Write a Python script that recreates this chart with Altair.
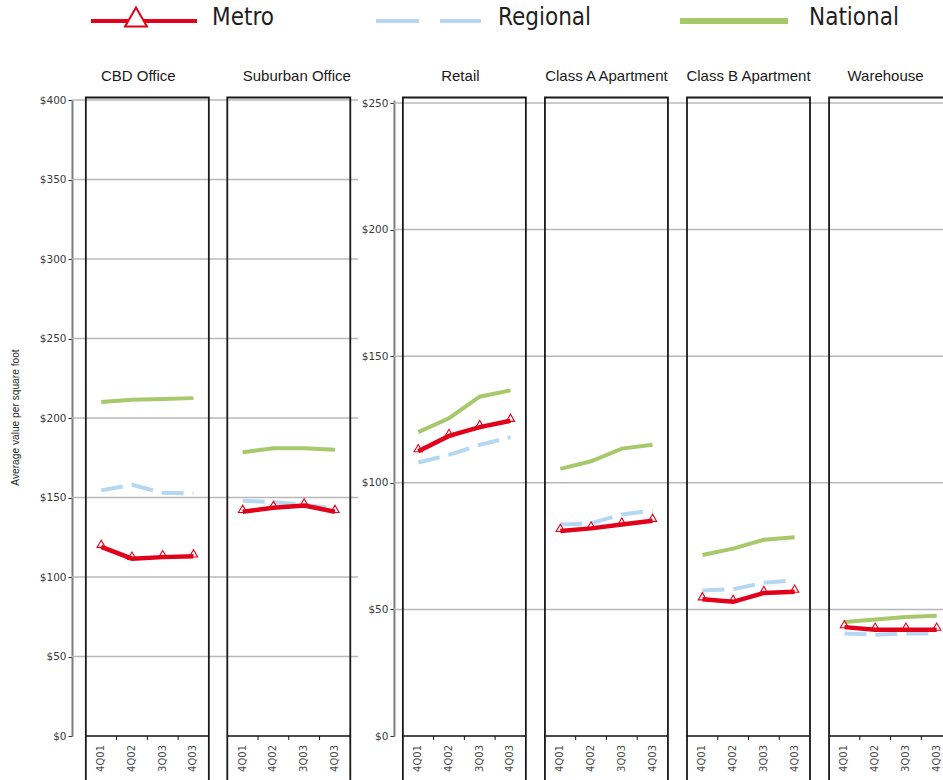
import altair as alt
import pandas as pd

# ---------------------------------------------------------------- data
quarters = ["4Q01", "4Q02", "3Q03", "4Q03"]
panels = ["CBD Office", "Suburban Office", "Retail",
          "Class A Apartment", "Class B Apartment", "Warehouse"]
series = ["Metro", "Regional", "National"]

metro = [
    [119.0, 111.5, 112.5, 113.0],
    [141.0, 143.5, 145.0, 141.0],
    [112.5, 118.5, 122.0, 124.5],
    [81.0, 82.0, 83.5, 85.0],
    [54.0, 53.0, 56.5, 57.0],
    [43.0, 42.0, 42.0, 42.0],
]
regional = [
    [154.5, 158.0, 153.0, 152.5],
    [148.0, 147.0, 145.5, 143.0],
    [108.0, 111.0, 115.0, 118.0],
    [83.5, 84.0, 87.5, 89.0],
    [57.5, 58.0, 60.5, 61.5],
    [40.5, 40.0, 40.5, 40.5],
]
national = [
    [210.0, 211.5, 212.0, 212.5],
    [178.5, 181.0, 181.0, 180.0],
    [120.0, 125.5, 134.0, 136.5],
    [105.5, 108.5, 113.5, 115.0],
    [71.5, 74.0, 77.5, 78.5],
    [45.0, 46.0, 47.0, 47.5],
]

# two value scales: offices on the left, the rest on the right
panel_group = [0, 0, 1, 1, 1, 1]
group_ticks = [list(range(0, 401, 50)), list(range(0, 251, 50))]
y_title = "Average value per square foot"

# ---------------------------------------------------------------- layout
W, H = 871, 636
PAD = {"left": 72, "top": 100, "right": 0, "bottom": 44}
BAND = 30.75                       # pixels per quarter slot
X_MAX = W / BAND
group_axis = [0.0, 10.47]          # axis position of each group (slots)
group_lead = [0.45, 0.29]
group_gap = [0.6, 0.62]
group_grid_end = [9.3, X_MAX]
group_top = [400.0, 250.0 * H / (H - 3)]
title_dx = [-9, 8, -4, 0, 0, -5]

RED, BLUE, GREEN = "#e2001a", "#b6d7f1", "#a7c96c"
series_color = {"Metro": RED, "Regional": BLUE, "National": GREEN}

starts = [0.0] * len(panels)
for g in (0, 1):
    members = [i for i, grp in enumerate(panel_group) if grp == g]
    for k, i in enumerate(members):
        starts[i] = group_axis[g] + group_lead[g] + k * (4 + group_gap[g])

rows = []
for name, table in zip(series, [metro, regional, national]):
    for p, vals in enumerate(table):
        for q, v in enumerate(vals):
            rows.append({"panel": panels[p], "group": panel_group[p],
                         "series": name, "quarter": quarters[q],
                         "x": starts[p] + q + 0.5, "value": v})
values_df = pd.DataFrame(rows)

frames_df = pd.DataFrame({
    "panel": panels,
    "x0": starts,
    "x1": [s + 4 for s in starts],
    "xc": [s + 2 + d / BAND for s, d in zip(starts, title_dx)],
})
ticks_df = pd.DataFrame([{"x": s + k} for s in starts for k in (1, 2, 3)])
labels_df = pd.DataFrame([{"x": s + q + 0.5, "label": lab}
                          for s in starts for q, lab in enumerate(quarters)])

xs = alt.Scale(domain=[0, X_MAX], nice=False, zero=False)


def X(field):
    return alt.X(field, type="quantitative", scale=xs, axis=None)


def y_scale(g):
    return alt.Scale(domain=[0, group_top[g]], nice=False, zero=True)


layers = []

# gridlines and the value axes
for g in (0, 1):
    grid_df = pd.DataFrame({"value": group_ticks[g][1:],
                            "gx0": group_axis[g],
                            "gx1": group_grid_end[g]})
    axis_kw = dict(orient="left", values=group_ticks[g],
                   labelExpr="'$' + datum.value", grid=False,
                   domainColor="#7d7d7d", domainWidth=2,
                   tickColor="#333333", tickSize=4, tickWidth=1,
                   labelFont="DejaVu Sans", labelFontSize=10.5,
                   labelColor="#3a3a3a", labelPadding=2,
                   offset=-group_axis[g] * BAND)
    if g == 0:
        axis_kw.update(titleFont="Liberation Sans", titleFontSize=10.2,
                       titleFontWeight="normal", titleColor="#1f1f1f",
                       titleX=-57, titleY=H / 2 - 1, titleAngle=270,
                       titleAlign="center", titleBaseline="middle")
        ytitle = y_title
    else:
        ytitle = None
    layers.append(
        alt.Chart(grid_df).mark_rule(color="#b8b8b8", strokeWidth=1.5).encode(
            x=X("gx0"), x2="gx1",
            y=alt.Y("value:Q", scale=y_scale(g), axis=alt.Axis(**axis_kw),
                    title=ytitle),
        )
    )

# panel frames, baselines, quarter ticks and labels, panel titles
layers.append(
    alt.Chart(frames_df).mark_rect(fillOpacity=0, stroke="#1a1a1a",
                                   strokeWidth=1.8).encode(
        x=X("x0"), x2="x1", y=alt.value(-2.5), y2=alt.value(H + 80))
)
layers.append(
    alt.Chart(frames_df).mark_rule(color="#111111", strokeWidth=1.5).encode(
        x=X("x0"), x2="x1", y=alt.value(H))
)
layers.append(
    alt.Chart(ticks_df).mark_rule(color="#111111", strokeWidth=1).encode(
        x=X("x"), y=alt.value(H), y2=alt.value(H + 4))
)
layers.append(
    alt.Chart(labels_df).mark_text(angle=270, align="right", baseline="middle",
                                   font="DejaVu Sans", fontSize=10,
                                   color="#4a4a4a").encode(
        x=X("x"), y=alt.value(H + 9), text="label:N")
)
layers.append(
    alt.Chart(frames_df).mark_text(font="Liberation Sans", fontSize=15,
                                   color="#1a1a1a", baseline="alphabetic").encode(
        x=X("xc"), y=alt.value(-19), text="panel:N")
)

# the three series, national first so metro sits on top
for name in ["National", "Regional", "Metro"]:
    for g in (0, 1):
        sub = values_df[(values_df.series == name) & (values_df.group == g)]
        mark_kw = dict(color=series_color[name], strokeCap="butt",
                       strokeWidth=4.5 if name == "Metro" else 4)
        if name == "Regional":
            mark_kw["strokeDash"] = [22, 9]
        layers.append(
            alt.Chart(sub).mark_line(**mark_kw).encode(
                x=X("x"),
                y=alt.Y("value:Q", scale=y_scale(g), axis=None),
                detail="panel:N", order="x:Q")
        )
        if name == "Metro":
            layers.append(
                alt.Chart(sub).mark_point(shape="triangle-up", filled=False,
                                          color=RED, strokeWidth=1.1,
                                          size=70, opacity=1, yOffset=-3).encode(
                    x=X("x"),
                    y=alt.Y("value:Q", scale=y_scale(g), axis=None))
            )

# legend row
legend_line = [(91, 197), (376, 481), (680, 788)]
legend_text_x = [212, 498, 809]
legend_width = [4, 4, 6]
legend_dash = [None, [43, 21], None]
for i, name in enumerate(series):
    one = pd.DataFrame({"series": [name]})
    a, b = legend_line[i]
    kw = dict(color=series_color[name], strokeWidth=legend_width[i],
              strokeCap="butt")
    if legend_dash[i]:
        kw["strokeDash"] = legend_dash[i]
    layers.append(
        alt.Chart(one).mark_rule(**kw).encode(
            x=alt.value(a - PAD["left"]), x2=alt.value(b - PAD["left"]),
            y=alt.value(21 - PAD["top"]))
    )
    if name == "Metro":
        layers.append(
            alt.Chart(one).mark_point(shape="triangle-up", filled=True,
                                      fill="white", stroke=RED, strokeWidth=2,
                                      size=480, opacity=1).encode(
                x=alt.value((a + b) / 2 - 8 - PAD["left"]),
                y=alt.value(17 - PAD["top"]))
        )
    layers.append(
        alt.Chart(one).mark_text(align="left", baseline="alphabetic",
                                 font="Liberation Sans Narrow, Arial Narrow, DejaVu Sans Condensed, sans-serif",
                                 fontSize=24, color="#1f1f1f").encode(
            x=alt.value(legend_text_x[i] - PAD["left"]),
            y=alt.value(25 - PAD["top"]), text="series:N")
    )

chart = (
    alt.layer(*layers)
    .resolve_scale(y="independent")
    .resolve_axis(y="independent")
    .properties(width=W, height=H, padding=PAD,
                autosize=alt.AutoSizeParams(type="none"),
                background="white")
    .configure_view(stroke=None)
)

chart.save("out.html", embed_options={"renderer": "svg", "actions": False})
